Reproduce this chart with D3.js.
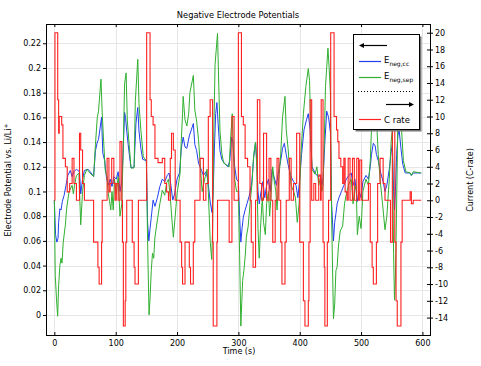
<!DOCTYPE html>
<html><head><meta charset="utf-8">
<script src="https://cdn.jsdelivr.net/npm/d3@7"></script>
<style>body{margin:0;background:#fff}svg{display:block}text{font-family:"DejaVu Sans",sans-serif;fill:#000}</style>
</head><body><svg id="c" width="481" height="366"></svg>
<script>
const timeTicks=[0,100,200,300,400,500,600];
const potentialTicks=[0,0.02,0.04,0.06,0.08,0.1,0.12,0.14,0.16,0.18,0.2,0.22];
const cRateTicks=[-14,-12,-10,-8,-6,-4,-2,0,2,4,6,8,10,12,14,16,18,20];
const seriesNames=["E","E","C rate"];
// C rate (step function): [time s, C-rate]
const cRate=[[0,0],[1,20],[5.5,12],[7,8],[8,10],[12,9],[14,5],[18,4],[21,1],[25,2],[29,5],[32,2],[36,0],[41,8],[43,6],[46,2],[49,0],[64,-5],[71,-8],[73,-10],[77,-5],[78,0],[86,5],[89,1],[91,2],[93.5,5],[97,2],[99,0],[101,2],[104,0],[107,7],[110,0],[111,-5],[112.5,-15],[115.5,-12],[116.5,-5],[118,0],[127,-5],[130,-8],[131.5,-10],[137,0],
[150.5,20],[156,12],[158,10],[161,9],[164,5],[169,4.5],[176,5],[180,2],[183,1],[186,0],[189,5],[191,8],[194,6],[197,0],[205,-5],[207.5,-8],[209,-10],[213,-5],[220,-8],[222,-10],[226.5,-5],[229,0],[237.5,5],[243,0],[247,2],[251,10],[254,12],[258,-5],[259,-15],[265,-5],[266,0],[285,-5],[289.5,10],[293,0],
[300,20],[305,10],[308,9],[311,5],[315,4],[319,0],[321,-5],[324,-8],[328,0],[331,12],[335,2],[338,0],[341,8],[346,0],[350,5],[353,0],[356,-5],[360,0],[363,5],[366,0],[369,-5],[371,-10],[376,-5],[378,0],[383,5],[386,0],[390,2],[395,8],[400,-5],[406,-12],[408.5,-15],[414,-12],[415,-5],[417,12],[419.5,0],[423,2],[426,0],[431,3],[434,0],[435,12],[438,-5],[440,-8],[441,-15],[445,-5],[447,0],
[450.5,20],[456,10],[460,8.4],[462,7],[464,5],[467,4],[470,2],[472,5],[474,1],[477,0],[479,5],[482,0],[486,5],[489,0],[493,5],[496,0],[498,4.8],[501,0],[512,2],[515,-5],[518,-8],[520,-10],[525,-5],[527,2],[531,5],[536,2],[539,0],[548,-5],[551,14],[555,-5],[557,-12],[559,-15],[565,-5],[567,0],[580,1],[582,-0.4],[585,0],[598,0]];
// E_neg,sep: [time s, V]
const eNegSep=[[0,0.093],[1.5,0.032],[3.5,0.013],[5.4,-0.001],[7,0.024],[9,0.040],[11,0.046],[12.5,0.042],[14.5,0.059],[18,0.073],[20,0.086],[24,0.1],[29,0.105],[31,0.098],[33,0.105],[36,0.113],[40,0.115],[43,0.073],[46,0.1],[49,0.113],[53,0.118],[58,0.115],[64,0.112],[67,0.138],[70,0.16],[72,0.165],[76,0.191],[78,0.164],[80,0.144],[83,0.117],[86,0.112],[88,0.098],[90,0.092],[92,0.085],[94,0.1],[96,0.085],[98,0.11],[101,0.098],[104,0.112],[107,0.08],[110,0.09],[112,0.128],[114.5,0.187],[117,0.196],[119,0.157],[122,0.138],[125,0.119],[130,0.119],[132,0.173],[136,0.207],[138,0.171],[141,0.15],[145,0.128],[150,0.125],[152,0.06],
[154.4,0.0],[156,0.013],[158,0.036],[160,0.05],[162,0.046],[164,0.063],[168,0.077],[172,0.09],[176,0.101],[180,0.097],[183,0.107],[186,0.11],[189,0.095],[192,0.075],[194,0.063],[197,0.08],[200,0.098],[203,0.108],[205,0.115],[207,0.142],[209,0.163],[210,0.177],[213,0.158],[216,0.153],[219,0.163],[221,0.18],[226.6,0.194],[229,0.166],[232,0.157],[235,0.142],[238,0.12],[241,0.1],[243,0.105],[246,0.112],[249,0.118],[251,0.1],[254,0.06],[256.5,0.045],[258,0.07],[260,0.15],[262,0.203],[266,0.228],[268,0.187],[270,0.149],[273,0.131],[276,0.123],[282,0.121],[285,0.12],[287,0.14],[290,0.163],[292,0.13],[294,0.11],[297,0.1],[300,0.1],[302,0.05],
[304,-0.009],[305.5,0.01],[307,0.028],[309,0.036],[311,0.047],[313,0.063],[316,0.072],[319,0.09],[322,0.105],[325,0.13],[328,0.14],[330,0.12],[332,0.07],[334,0.046],[336,0.07],[339,0.095],[341,0.075],[344,0.065],[346,0.09],[349,0.1],[351,0.08],[353,0.095],[356,0.12],[358,0.11],[361,0.1],[363,0.085],[366,0.11],[369,0.13],[372,0.16],[376,0.177],[378,0.15],[381,0.135],[384,0.115],[386,0.105],[390,0.1],[393,0.095],[396,0.075],[399,0.09],[402,0.13],[406,0.163],[410,0.185],[414,0.1995],[416,0.19],[418,0.15],[420,0.118],[425,0.114],[428,0.12],[431,0.105],[434,0.112],[436,0.1],[438,0.105],[440,0.14],[442,0.185],[446,0.216],[448,0.2],[450,0.18],[452,0.08],
[455,-0.003],[457,0.009],[459,0.036],[461,0.039],[463,0.055],[466,0.068],[470,0.072],[473,0.09],[476,0.098],[480,0.106],[484,0.11],[487,0.09],[489,0.1],[492,0.105],[494,0.065],[497,0.08],[500,0.07],[503,0.1],[508,0.11],[512,0.105],[515,0.125],[517,0.15],[520,0.17],[524,0.175],[526,0.15],[528,0.13],[531,0.11],[535,0.09],[539,0.069],[542,0.08],[546,0.11],[549,0.14],[551,0.15],[553,0.05],[554.5,0.012],[556,0.03],[558,0.09],[560,0.16],[563,0.185],[566,0.15],[569,0.125],[573,0.116],[580,0.115],[582,0.113],[585,0.116],[598,0.115]];
// E_neg,cc: [time s, V]
const eNegCc=[[0,0.093],[2,0.065],[4,0.059],[6,0.062],[7,0.075],[9,0.086],[11,0.085],[13,0.092],[16,0.097],[19,0.105],[22,0.113],[26,0.117],[29,0.112],[32,0.116],[36,0.118],[41,0.116],[43,0.098],[46,0.11],[49,0.117],[55,0.118],[60,0.115],[64,0.112],[67,0.133],[70,0.14],[72,0.142],[77,0.16],[79,0.131],[82,0.125],[85,0.111],[88,0.105],[91,0.11],[94,0.104],[97,0.112],[101,0.11],[104,0.116],[107,0.1],[110,0.108],[112,0.13],[114.5,0.164],[116,0.16],[118,0.149],[121,0.135],[125,0.119],[130,0.12],[133,0.155],[136,0.168],[138,0.149],[141,0.135],[144,0.126],[150,0.125],[152,0.075],
[154,0.06],[156,0.07],[158,0.079],[161,0.093],[164,0.088],[168,0.095],[172,0.104],[176,0.11],[180,0.108],[184,0.113],[187,0.115],[190,0.105],[193,0.093],[196,0.098],[200,0.11],[204,0.115],[207,0.135],[210,0.144],[213,0.136],[216,0.135],[220,0.145],[226.6,0.155],[229,0.138],[232,0.133],[235,0.123],[240,0.117],[243,0.113],[247,0.116],[250,0.11],[254,0.092],[257,0.083],[259,0.1],[261,0.136],[263,0.163],[265,0.172],[267,0.155],[270,0.133],[273,0.126],[277,0.123],[283,0.12],[286,0.125],[289,0.144],[291,0.14],[294,0.12],[297,0.11],[300,0.108],[302,0.08],
[304,0.059],[306,0.07],[308,0.079],[311,0.085],[314,0.09],[318,0.097],[322,0.108],[325,0.128],[328,0.14],[330,0.125],[332,0.1],[334,0.09],[337,0.1],[340,0.108],[343,0.095],[346,0.105],[349,0.11],[352,0.1],[355,0.118],[358,0.112],[362,0.105],[365,0.115],[369,0.125],[372,0.135],[375,0.139],[378,0.13],[381,0.122],[385,0.113],[390,0.108],[394,0.105],[397,0.095],[400,0.11],[403,0.13],[407,0.15],[411,0.158],[414,0.163],[417,0.15],[420,0.12],[425,0.115],[430,0.112],[434,0.113],[436,0.105],[438,0.11],[441,0.14],[444,0.165],[447,0.16],[450,0.148],[452,0.09],
[455,0.06],[457,0.075],[459,0.082],[461,0.09],[464,0.095],[468,0.1],[472,0.105],[476,0.11],[480,0.113],[484,0.115],[487,0.105],[490,0.11],[494,0.092],[497,0.1],[500,0.095],[503,0.108],[508,0.113],[512,0.11],[515,0.12],[517,0.13],[520,0.139],[523,0.137],[525,0.13],[528,0.125],[532,0.115],[536,0.108],[539,0.1],[542,0.105],[546,0.118],[549,0.132],[551,0.138],[553,0.1],[554.5,0.085],[556,0.1],[558,0.13],[560,0.145],[562,0.15],[565,0.135],[568,0.122],[572,0.115],[580,0.115],[582,0.113],[585,0.115],[598,0.115]];

const L=46,R=431,T=24,B=335;
const colCc="#2040f0",colSep="#30b030",colC="#ff2020";
const svg=d3.select("#c");
const x=d3.scaleLinear().domain([-13.6,614]).range([L,R]);
const yL=d3.scaleLinear().domain([-0.0162,0.2356]).range([B,T]);
const yR=d3.scaleLinear().domain([-16.08,21.04]).range([B,T]);

// grid
const grid=svg.append("g").attr("stroke","#e6e6e6").attr("stroke-width",1);
timeTicks.forEach(t=>grid.append("line").attr("x1",Math.round(x(t))+0.5).attr("x2",Math.round(x(t))+0.5).attr("y1",T).attr("y2",B));
potentialTicks.forEach(v=>grid.append("line").attr("x1",L).attr("x2",R).attr("y1",Math.round(yL(v))+0.5).attr("y2",Math.round(yL(v))+0.5));

svg.append("defs").append("clipPath").attr("id","clip").append("rect").attr("x",L).attr("y",T).attr("width",R-L).attr("height",B-T);
const plot=svg.append("g").attr("clip-path","url(#clip)");
const lineL=d3.line().x(d=>x(d[0])).y(d=>yL(d[1]));
const lineR=d3.line().x(d=>x(d[0])).y(d=>yR(d[1])).curve(d3.curveStepAfter);
plot.append("path").datum(eNegCc).attr("d",lineL).attr("fill","none").attr("stroke",colCc).attr("stroke-width",1);
plot.append("path").datum(eNegSep).attr("d",lineL).attr("fill","none").attr("stroke",colSep).attr("stroke-width",1);
plot.append("path").datum(cRate).attr("d",lineR).attr("fill","none").attr("stroke",colC).attr("stroke-width",1.1);

// axes
const fmtV=d=>String(+d.toFixed(2));
const ax=svg.append("g").attr("font-size","8px");
const gB=ax.append("g").attr("transform",`translate(0,${B})`).call(d3.axisBottom(x).tickValues(timeTicks).tickSizeInner(-3).tickSizeOuter(0).tickPadding(5));
const gT=ax.append("g").attr("transform",`translate(0,${T})`).call(d3.axisTop(x).tickValues(timeTicks).tickSizeInner(-3).tickSizeOuter(0).tickFormat(""));
const gL=ax.append("g").attr("transform",`translate(${L},0)`).call(d3.axisLeft(yL).tickValues(potentialTicks).tickSizeInner(3).tickSizeOuter(0).tickPadding(2).tickFormat(fmtV));
const gR=ax.append("g").attr("transform",`translate(${R},0)`).call(d3.axisRight(yR).tickValues(cRateTicks).tickSizeInner(-4).tickSizeOuter(0).tickPadding(4).tickFormat(d=>String(d)));
[gB,gT,gL,gR].forEach(g=>{g.select(".domain").remove();g.selectAll("text").attr("font-family","DejaVu Sans").attr("font-size","8px").attr("fill","#000");g.selectAll(".tick line").attr("stroke","#000");});
gR.selectAll(".tick line").attr("x1",2);
svg.append("rect").attr("x",L+0.5).attr("y",T+0.5).attr("width",R-L-1).attr("height",B-T).attr("fill","none").attr("stroke","#000");

// titles
svg.append("text").attr("x",238).attr("y",18).attr("text-anchor","middle").attr("font-size","8.3px").text("Negative Electrode Potentials");
svg.append("text").attr("x",239).attr("y",354).attr("text-anchor","middle").attr("font-size","8px").text("Time (s)");
const yl=svg.append("text").attr("transform","translate(11,180) rotate(-90)").attr("text-anchor","middle").attr("font-size","8px");
yl.append("tspan").text("Electrode Potential vs. Li/Li");
yl.append("tspan").attr("dy",-3).attr("font-size","6px").text("+");
svg.append("text").attr("transform","translate(473,180) rotate(-90)").attr("text-anchor","middle").attr("font-size","8px").text("Current (C-rate)");

// legend
const lg=svg.append("g");
lg.append("rect").attr("x",355.5).attr("y",36.5).attr("width",66).attr("height",95).attr("fill","#777");
lg.append("rect").attr("x",353.5).attr("y",34.5).attr("width",66).attr("height",95).attr("fill","#fff").attr("stroke","#000");
lg.append("line").attr("x1",362).attr("x2",387).attr("y1",45.5).attr("y2",45.5).attr("stroke","#000").attr("stroke-width",1.2);
lg.append("path").attr("d","M359,45.5 L364,43 L364,48 Z").attr("fill","#000");
lg.append("path").attr("d","M359,61.5 H381").attr("stroke",colCc).attr("stroke-width",1.2).attr("fill","none");
lg.append("path").attr("d","M359,77.5 H381").attr("stroke",colSep).attr("stroke-width",1.2).attr("fill","none");
lg.append("line").attr("x1",358).attr("x2",414).attr("y1",91.5).attr("y2",91.5).attr("stroke","#000").attr("stroke-dasharray","1,2");
lg.append("line").attr("x1",386).attr("x2",411).attr("y1",104.5).attr("y2",104.5).attr("stroke","#000").attr("stroke-width",1.2);
lg.append("path").attr("d","M414,104.5 L409,102 L409,107 Z").attr("fill","#000");
lg.append("path").attr("d","M359,119.5 H381").attr("stroke",colC).attr("stroke-width",1.2).attr("fill","none");
const t1=lg.append("text").attr("x",384).attr("y",63).attr("font-size","8.5px");
t1.append("tspan").text(seriesNames[0]);t1.append("tspan").attr("dy",2.5).attr("font-size","6px").text("neg,cc");
const t2=lg.append("text").attr("x",384).attr("y",79).attr("font-size","8.5px");
t2.append("tspan").text(seriesNames[1]);t2.append("tspan").attr("dy",2.5).attr("font-size","6px").text("neg,sep");
lg.append("text").attr("x",384).attr("y",122.5).attr("font-size","8.5px").text(seriesNames[2]);
</script></body></html>
